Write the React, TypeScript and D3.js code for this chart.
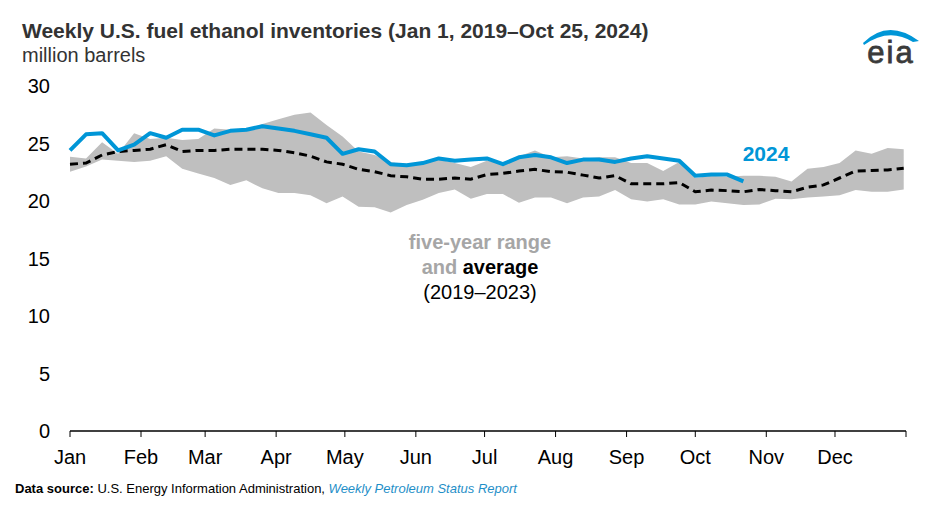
import { useEffect, useRef } from "react";
import * as d3 from "d3";

// weekly points, day-of-year = 7 * index
const rangeHigh = [
  23.85, 23.7, 25.1, 24.1, 25.9, 25.4, 25.5, 25.3, 25.4, 26.3, 26.2, 26.1, 26.7,
  27.1, 27.5, 27.7, 26.6, 25.6, 24.3, 24.0, 23.4, 23.1, 23.4, 23.6, 23.3, 22.95,
  23.5, 23.3, 23.9, 24.4, 23.8, 23.9, 23.7, 23.8, 23.8, 23.3, 23.3, 22.6, 23.4,
  22.0, 22.2, 22.1, 22.2, 22.2, 22.1, 21.7, 22.8, 22.95, 23.3, 24.4, 24.1, 24.6,
  24.5,
];
const rangeLow = [
  22.55, 23.0, 23.6, 23.5, 23.4, 23.5, 23.9, 22.8, 22.4, 22.0, 21.4, 21.8, 21.1,
  20.7, 20.7, 20.5, 19.8, 20.4, 19.5, 19.45, 19.0, 19.65, 20.1, 20.7, 21.0, 20.2,
  20.6, 20.6, 19.85, 20.3, 20.3, 19.8, 20.3, 20.4, 20.95, 20.15, 19.95, 20.15,
  19.7, 19.7, 19.95, 19.8, 19.65, 19.7, 20.2, 20.15, 20.3, 20.4, 20.5, 20.95, 20.8,
  20.8, 21.0,
];
const average = [
  23.2, 23.3, 24.0, 24.3, 24.4, 24.5, 24.9, 24.3, 24.4, 24.4, 24.5, 24.5, 24.5,
  24.4, 24.2, 23.9, 23.4, 23.2, 22.75, 22.55, 22.2, 22.1, 21.9, 21.9, 22.0, 21.9,
  22.3, 22.4, 22.6, 22.75, 22.55, 22.5, 22.25, 22.0, 22.2, 21.5, 21.5, 21.5, 21.6,
  20.8, 20.95, 20.9, 20.8, 21.0, 20.9, 20.8, 21.2, 21.4, 22.0, 22.6, 22.65, 22.7,
  22.85,
];
const y2024 = [
  24.4, 25.8, 25.9, 24.4, 24.9, 25.9, 25.5, 26.2, 26.2, 25.7, 26.1, 26.2, 26.5,
  26.3, 26.1, 25.8, 25.5, 24.1, 24.5, 24.3, 23.2, 23.1, 23.3, 23.7, 23.5, 23.6,
  23.7, 23.2, 23.8, 24.0, 23.8, 23.3, 23.6, 23.6, 23.4, 23.7, 23.9, 23.7, 23.5,
  22.2, 22.3, 22.3, 21.7,
];
const months = ["Jan", "Feb", "Mar", "Apr", "May", "Jun", "Jul", "Aug", "Sep", "Oct", "Nov", "Dec"];
const monthStarts = [0, 31, 59, 90, 120, 151, 181, 212, 243, 273, 304, 334, 365];
const yTicks = [0, 5, 10, 15, 20, 25, 30];

const W = 940;
const H = 517;
const FONT = "'Liberation Sans', Arial, sans-serif";
const BLUE = "#0096d7";

export default function App() {
  const svgRef = useRef<SVGSVGElement>(null);

  useEffect(() => {
    if (!svgRef.current) return;
    const svg = d3.select(svgRef.current);
    svg.selectAll("*").remove();

    const x = d3.scaleLinear().domain([0, 365]).range([70, 906]);
    const y = d3.scaleLinear().domain([0, 30]).range([431, 86]);
    const day = (i: number) => i * 7;

    // five-year range band
    const area = d3
      .area<number>()
      .x((_d, i) => x(day(i)))
      .y0((_d, i) => y(rangeLow[i]))
      .y1((d) => y(d));
    svg.append("path").attr("d", area(rangeHigh)).attr("fill", "#bfbfbf");

    const line = d3
      .line<number>()
      .x((_d, i) => x(day(i)))
      .y((d) => y(d));

    svg
      .append("path")
      .attr("d", line(average))
      .attr("fill", "none")
      .attr("stroke", "#000")
      .attr("stroke-width", 3)
      .attr("stroke-dasharray", "8,5");

    svg
      .append("path")
      .attr("d", line(y2024))
      .attr("fill", "none")
      .attr("stroke", BLUE)
      .attr("stroke-width", 4)
      .attr("stroke-linejoin", "round");

    // y labels
    svg
      .append("g")
      .selectAll("text")
      .data(yTicks)
      .enter()
      .append("text")
      .attr("x", 50)
      .attr("y", (d) => y(d))
      .attr("dy", "0.36em")
      .attr("text-anchor", "end")
      .style("font-family", FONT)
      .style("font-size", "20px")
      .style("fill", "#000")
      .text((d) => d);

    // x axis
    const xg = svg.append("g").attr("transform", `translate(0,${y(0)})`);
    xg.append("line")
      .attr("x1", x(0))
      .attr("x2", x(365))
      .attr("stroke", "#000")
      .attr("stroke-width", 1.5);
    xg.selectAll(".tick")
      .data(monthStarts)
      .enter()
      .append("line")
      .attr("x1", (d) => x(d))
      .attr("x2", (d) => x(d))
      .attr("y1", 0)
      .attr("y2", 6)
      .attr("stroke", "#000")
      .attr("stroke-width", 1);
    xg.selectAll(".mlabel")
      .data(months)
      .enter()
      .append("text")
      .attr("x", (_d, i) => x(monthStarts[i]))
      .attr("y", 33)
      .attr("text-anchor", "middle")
      .style("font-family", FONT)
      .style("font-size", "20px")
      .style("fill", "#000")
      .text((d) => d);

    // annotations
    svg
      .append("text")
      .attr("x", 766)
      .attr("y", 161)
      .attr("text-anchor", "middle")
      .style("font-family", FONT)
      .style("font-size", "21px")
      .style("font-weight", "bold")
      .style("fill", BLUE)
      .text("2024");

    const note = svg
      .append("text")
      .attr("text-anchor", "middle")
      .style("font-family", FONT)
      .style("font-size", "20px");
    note
      .append("tspan")
      .attr("x", 480)
      .attr("y", 249)
      .style("font-weight", "bold")
      .style("fill", "#a6a6a6")
      .text("five-year range");
    const l2 = note.append("tspan").attr("x", 480).attr("y", 274);
    l2.append("tspan").style("font-weight", "bold").style("fill", "#a6a6a6").text("and ");
    l2.append("tspan").style("font-weight", "bold").style("fill", "#000").text("average");
    note
      .append("tspan")
      .attr("x", 480)
      .attr("y", 299)
      .style("fill", "#000")
      .text("(2019–2023)");

    // title
    svg
      .append("text")
      .attr("x", 22)
      .attr("y", 38)
      .style("font-family", FONT)
      .style("font-size", "21px")
      .style("font-weight", "bold")
      .style("fill", "#333")
      .text("Weekly U.S. fuel ethanol inventories (Jan 1, 2019–Oct 25, 2024)");
    svg
      .append("text")
      .attr("x", 22)
      .attr("y", 62)
      .style("font-family", FONT)
      .style("font-size", "20px")
      .style("fill", "#333")
      .text("million barrels");

    // eia logo
    svg
      .append("path")
      .attr("d", "M863,43 Q888,18 919,41 L913,42 Q889,27 864,45 Z")
      .attr("fill", BLUE);
    svg
      .append("text")
      .attr("x", 891)
      .attr("y", 63)
      .attr("text-anchor", "middle")
      .style("font-family", FONT)
      .style("font-size", "31px")
      .style("letter-spacing", "2px")
      .style("fill", "#3a3a3a")
      .style("stroke", "#3a3a3a")
      .style("stroke-width", 0.8)
      .text("eia");

    // footer
    const foot = svg
      .append("text")
      .attr("x", 15)
      .attr("y", 493)
      .style("font-family", FONT)
      .style("font-size", "13px")
      .style("fill", "#000");
    foot.append("tspan").style("font-weight", "bold").text("Data source: ");
    foot.append("tspan").text("U.S. Energy Information Administration, ");
    foot
      .append("tspan")
      .style("font-style", "italic")
      .style("fill", "#1f8fc8")
      .text("Weekly Petroleum Status Report");
  }, []);

  return (
    <svg
      ref={svgRef}
      width={W}
      height={H}
      viewBox={`0 0 ${W} ${H}`}
      style={{ display: "block", position: "absolute", left: 0, top: 0, background: "#fff" }}
    />
  );
}
